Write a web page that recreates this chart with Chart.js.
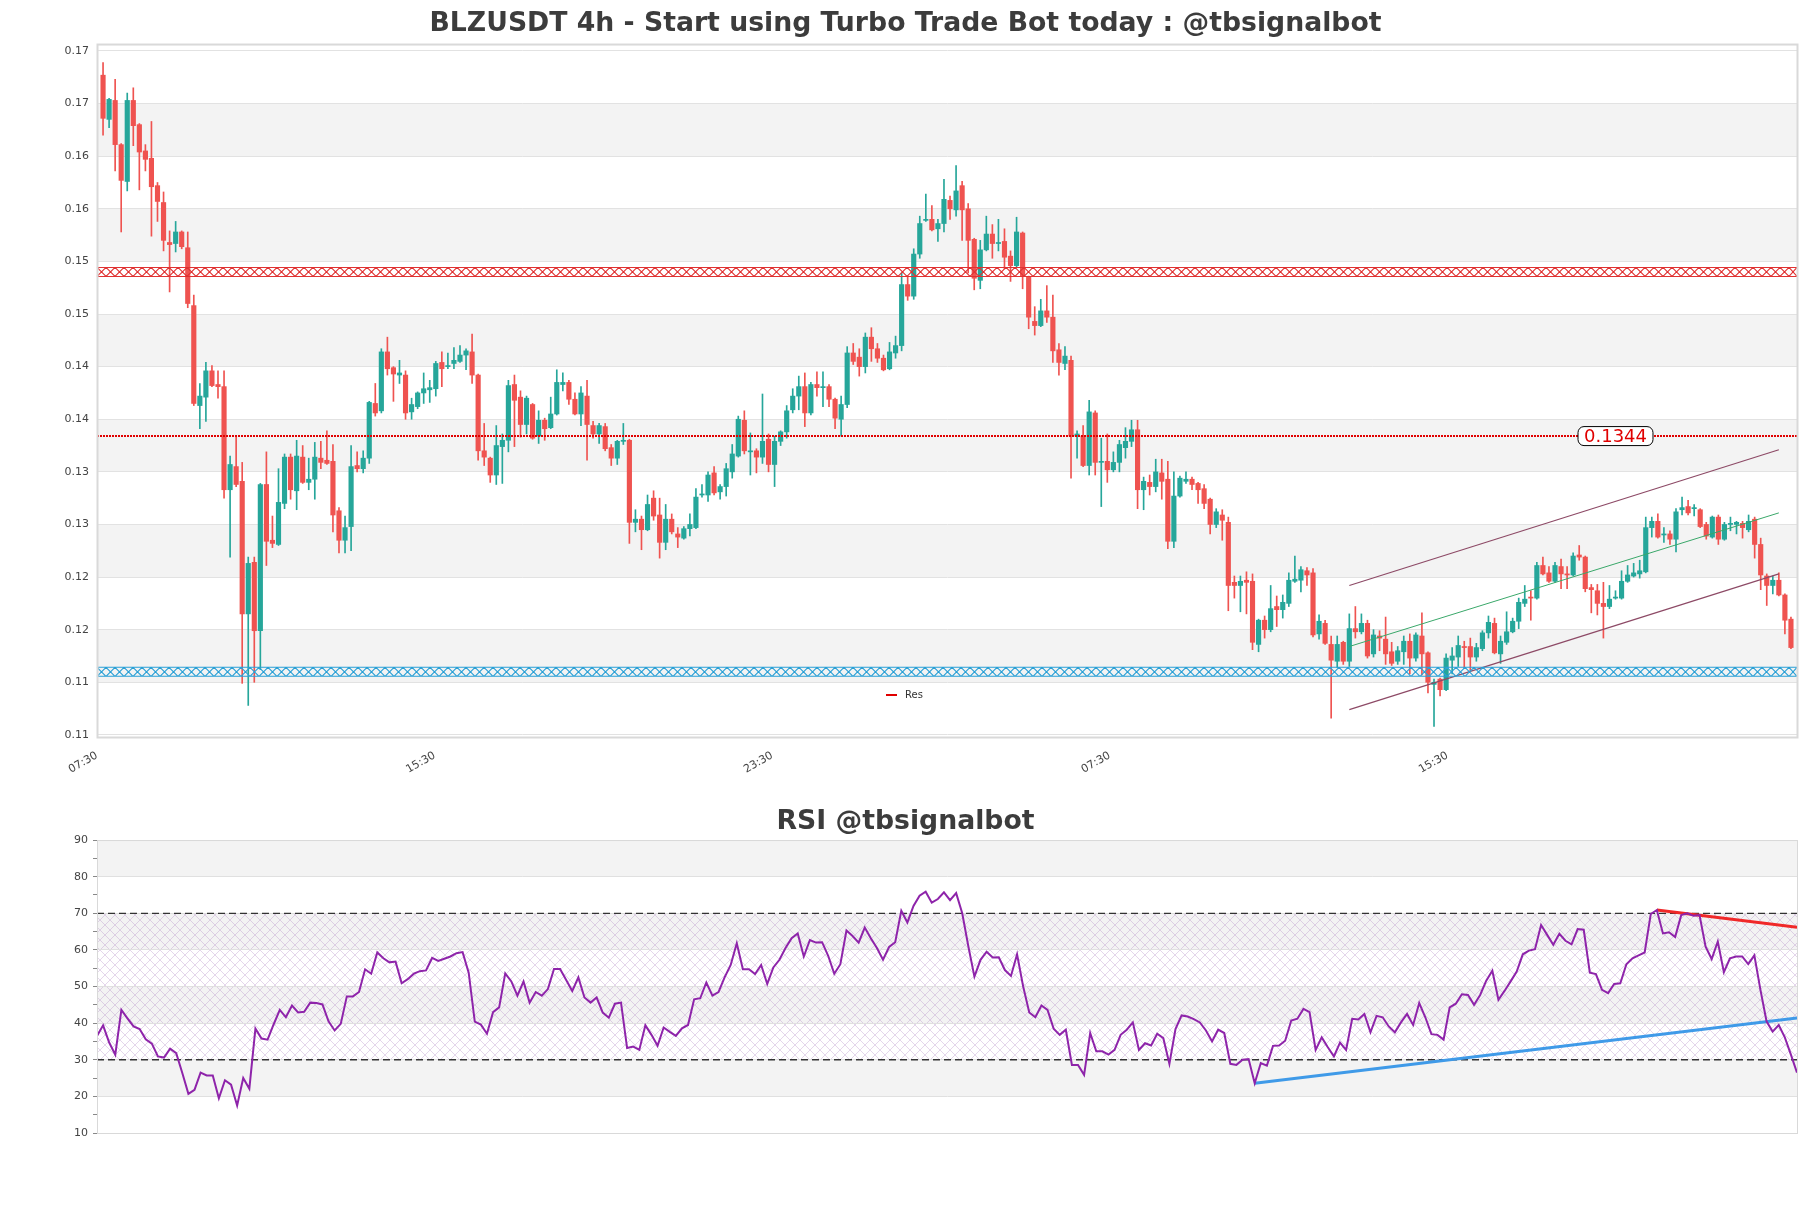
<!DOCTYPE html>
<html>
<head>
<meta charset="utf-8">
<script src="https://cdn.jsdelivr.net/npm/chart.js@4.4.1/dist/chart.umd.min.js"></script>
<style>
  html, body { margin: 0; padding: 0; background: #fff; }
  #wrap { position: relative; width: 1811px; height: 1208px; }
  #priceChart { position: absolute; left: 0; top: 0; }
  #rsiChart { position: absolute; left: 0; top: 790px; }
</style>
</head>
<body>
<div id="wrap">
  <canvas id="priceChart" width="1811" height="790"></canvas>
  <canvas id="rsiChart" width="1811" height="418"></canvas>
</div>
<script>
// Texts
const titleText = "BLZUSDT 4h - Start using Turbo Trade Bot today : @tbsignalbot";
const rsiTitleText = "RSI @tbsignalbot";

// X axis: tick labels and the candle index they sit on
const xTickLabels = ["07:30", "15:30", "23:30", "07:30", "15:30"];
const xTickIndex = [-1, 54.8, 110.6, 166.4, 222.2];

// Y axis ticks of the price panel
const priceTicks = [0.1060, 0.1110, 0.1160, 0.1210, 0.1260, 0.1310, 0.1360,
  0.1410, 0.1460, 0.1510, 0.1560, 0.1610, 0.1660, 0.1710];

// OHLC
const open = [
  0.1687,0.1645,0.1663,0.1621,0.1586,0.1663,0.1640,0.1615,0.1608,0.1582,
  0.1566,0.1528,0.1527,0.1538,0.1523,0.1468,0.1373,0.1381,0.1406,0.1393,
  0.1391,0.1293,0.1315,0.1301,0.1175,0.1224,0.1159,0.1298,0.1245,0.1241,
  0.1280,0.1324,0.1292,0.1324,0.1300,0.1303,0.1323,0.1321,0.1320,0.1273,
  0.1245,0.1258,0.1316,0.1313,0.1323,0.1375,0.1368,0.1424,0.1409,0.1402,
  0.1402,0.1367,0.1372,0.1385,0.1388,0.1389,0.1414,0.1410,0.1413,0.1415,
  0.1421,0.1424,0.1402,0.1330,0.1323,0.1307,0.1334,0.1340,0.1393,0.1381,
  0.1355,0.1374,0.1344,0.1359,0.1352,0.1365,0.1393,0.1395,0.1379,0.1365,
  0.1382,0.1354,0.1346,0.1353,0.1333,0.1323,0.1339,0.1340,0.1262,0.1265,
  0.1255,0.1285,0.1269,0.1243,0.1265,0.1251,0.1247,0.1256,0.1257,0.1288,
  0.1288,0.1309,0.1291,0.1296,0.1310,0.1325,0.1359,0.1329,0.1330,0.1324,
  0.1341,0.1317,0.1339,0.1348,0.1369,0.1382,0.1391,0.1366,0.1393,0.1390,
  0.1391,0.1379,0.1360,0.1374,0.1423,0.1419,0.1410,0.1438,0.1427,0.1418,
  0.1408,0.1423,0.1430,0.1488,0.1477,0.1517,0.1549,0.1550,0.1541,0.1546,
  0.1568,0.1559,0.1582,0.1560,0.1531,0.1492,0.1521,0.1536,0.1527,0.1529,
  0.1515,0.1506,0.1537,0.1495,0.1453,0.1449,0.1463,0.1457,0.1426,0.1413,
  0.1416,0.1344,0.1344,0.1316,0.1366,0.1319,0.1320,0.1312,0.1319,0.1333,
  0.1339,0.1350,0.1293,0.1300,0.1296,0.1309,0.1303,0.1244,0.1287,0.1301,
  0.1303,0.1299,0.1294,0.1284,0.1260,0.1269,0.1262,0.1205,0.1202,0.1207,
  0.1206,0.1146,0.1169,0.1160,0.1182,0.1179,0.1185,0.1206,0.1207,0.1216,
  0.1214,0.1156,0.1166,0.1146,0.1130,0.1148,0.1130,0.1161,0.1158,0.1166,
  0.1137,0.1154,0.1151,0.1139,0.1130,0.1139,0.1149,0.1133,0.1154,0.1138,
  0.1108,0.1113,0.1103,0.1131,0.1134,0.1144,0.1144,0.1134,0.1142,0.1157,
  0.1166,0.1137,0.1148,0.1158,0.1168,0.1185,0.1191,0.1190,0.1221,0.1214,
  0.1206,0.1220,0.1213,0.1212,0.1231,0.1229,0.1200,0.1197,0.1185,0.1182,
  0.1190,0.1190,0.1206,0.1211,0.1213,0.1215,0.1257,0.1263,0.1250,0.1251,
  0.1246,0.1274,0.1277,0.1275,0.1274,0.1260,0.1248,0.1267,0.1246,0.1260,
  0.1260,0.1261,0.1255,0.1265,0.1241,0.1211,0.1202,0.1207,0.1193,0.1170
];
const high = [
  0.1699,0.1665,0.1683,0.1622,0.1670,0.1675,0.1641,0.1621,0.1643,0.1585,
  0.1576,0.1539,0.1548,0.1539,0.1538,0.1478,0.1394,0.1414,0.1411,0.1406,
  0.1406,0.1325,0.1344,0.1319,0.1229,0.1229,0.1299,0.1329,0.1268,0.1313,
  0.1327,0.1327,0.1340,0.1335,0.1323,0.1338,0.1339,0.1349,0.1336,0.1276,
  0.1268,0.1335,0.1329,0.1330,0.1377,0.1394,0.1427,0.1438,0.1410,0.1416,
  0.1406,0.1380,0.1386,0.1404,0.1397,0.1415,0.1424,0.1423,0.1428,0.1430,
  0.1427,0.1441,0.1403,0.1356,0.1324,0.1354,0.1346,0.1397,0.1402,0.1387,
  0.1382,0.1375,0.1368,0.1361,0.1381,0.1407,0.1404,0.1397,0.1385,0.1391,
  0.1397,0.1358,0.1356,0.1356,0.1336,0.1340,0.1356,0.1341,0.1274,0.1268,
  0.1288,0.1292,0.1285,0.1279,0.1270,0.1257,0.1258,0.1270,0.1294,0.1298,
  0.1310,0.1315,0.1298,0.1318,0.1336,0.1363,0.1368,0.1347,0.1332,0.1384,
  0.1346,0.1344,0.1349,0.1373,0.1389,0.1401,0.1404,0.1395,0.1405,0.1405,
  0.1393,0.1380,0.1382,0.1429,0.1432,0.1427,0.1442,0.1447,0.1432,0.1421,
  0.1433,0.1439,0.1499,0.1495,0.1522,0.1553,0.1574,0.1563,0.1550,0.1588,
  0.1572,0.1601,0.1586,0.1565,0.1532,0.1530,0.1553,0.1545,0.1550,0.1541,
  0.1520,0.1552,0.1538,0.1496,0.1467,0.1474,0.1487,0.1478,0.1432,0.1429,
  0.1420,0.1349,0.1354,0.1378,0.1368,0.1342,0.1346,0.1329,0.1340,0.1352,
  0.1359,0.1359,0.1305,0.1307,0.1322,0.1322,0.1320,0.1310,0.1306,0.1310,
  0.1305,0.1300,0.1298,0.1285,0.1275,0.1274,0.1267,0.1211,0.1211,0.1215,
  0.1213,0.1170,0.1173,0.1202,0.1192,0.1193,0.1214,0.1230,0.1220,0.1219,
  0.1218,0.1174,0.1169,0.1154,0.1154,0.1149,0.1175,0.1182,0.1175,0.1169,
  0.1160,0.1159,0.1172,0.1148,0.1144,0.1154,0.1156,0.1157,0.1176,0.1139,
  0.1113,0.1114,0.1137,0.1143,0.1154,0.1149,0.1152,0.1147,0.1159,0.1173,
  0.1171,0.1154,0.1177,0.1171,0.1190,0.1202,0.1197,0.1224,0.1229,0.1220,
  0.1224,0.1227,0.1220,0.1233,0.1240,0.1230,0.1203,0.1203,0.1205,0.1202,
  0.1197,0.1216,0.1221,0.1223,0.1226,0.1267,0.1267,0.1270,0.1257,0.1254,
  0.1275,0.1286,0.1283,0.1279,0.1275,0.1262,0.1268,0.1269,0.1262,0.1267,
  0.1263,0.1263,0.1269,0.1267,0.1247,0.1213,0.1211,0.1214,0.1194,0.1172
];
const low = [
  0.1630,0.1637,0.1596,0.1538,0.1577,0.1620,0.1578,0.1596,0.1534,0.1548,
  0.1520,0.1481,0.1519,0.1522,0.1466,0.1373,0.1351,0.1358,0.1391,0.1380,
  0.1285,0.1229,0.1296,0.1109,0.1088,0.1110,0.1122,0.1221,0.1238,0.1240,
  0.1275,0.1284,0.1274,0.1299,0.1293,0.1284,0.1313,0.1317,0.1253,0.1233,
  0.1233,0.1235,0.1310,0.1309,0.1318,0.1363,0.1366,0.1402,0.1377,0.1394,
  0.1360,0.1360,0.1370,0.1375,0.1376,0.1382,0.1391,0.1408,0.1408,0.1414,
  0.1407,0.1394,0.1321,0.1316,0.1300,0.1298,0.1299,0.1329,0.1334,0.1343,
  0.1346,0.1341,0.1337,0.1340,0.1351,0.1364,0.1387,0.1374,0.1364,0.1354,
  0.1321,0.1342,0.1337,0.1330,0.1316,0.1317,0.1336,0.1242,0.1253,0.1236,
  0.1254,0.1264,0.1228,0.1236,0.1251,0.1238,0.1246,0.1249,0.1256,0.1286,
  0.1282,0.1288,0.1284,0.1287,0.1304,0.1324,0.1327,0.1307,0.1309,0.1318,
  0.1310,0.1296,0.1335,0.1342,0.1366,0.1369,0.1353,0.1364,0.1382,0.1372,
  0.1372,0.1351,0.1344,0.1371,0.1412,0.1401,0.1404,0.1415,0.1414,0.1406,
  0.1407,0.1418,0.1425,0.1473,0.1474,0.1513,0.1548,0.1539,0.1529,0.1538,
  0.1550,0.1553,0.1530,0.1499,0.1483,0.1484,0.1520,0.1513,0.1520,0.1503,
  0.1491,0.1505,0.1484,0.1446,0.1440,0.1448,0.1452,0.1414,0.1402,0.1407,
  0.1304,0.1323,0.1315,0.1307,0.1307,0.1277,0.1300,0.1310,0.1310,0.1323,
  0.1334,0.1275,0.1274,0.1288,0.1291,0.1284,0.1237,0.1238,0.1286,0.1299,
  0.1293,0.1280,0.1275,0.1251,0.1257,0.1245,0.1178,0.1190,0.1177,0.1175,
  0.1141,0.1139,0.1152,0.1158,0.1163,0.1171,0.1182,0.1205,0.1196,0.1202,
  0.1153,0.1151,0.1146,0.1076,0.1124,0.1127,0.1125,0.1152,0.1156,0.1133,
  0.1134,0.1140,0.1127,0.1126,0.1127,0.1127,0.1118,0.1130,0.1117,0.1100,
  0.1068,0.1097,0.1102,0.1118,0.1125,0.1123,0.1121,0.1130,0.1140,0.1152,
  0.1137,0.1128,0.1146,0.1157,0.1161,0.1182,0.1169,0.1189,0.1212,0.1205,
  0.1205,0.1199,0.1199,0.1211,0.1226,0.1196,0.1176,0.1174,0.1152,0.1180,
  0.1189,0.1189,0.1205,0.1210,0.1209,0.1214,0.1248,0.1247,0.1243,0.1241,
  0.1234,0.1269,0.1269,0.1268,0.1257,0.1246,0.1247,0.1241,0.1245,0.1254,
  0.1251,0.1247,0.1253,0.1228,0.1198,0.1183,0.1194,0.1192,0.1156,0.1142
];
const close = [
  0.1646,0.1664,0.1621,0.1587,0.1663,0.1639,0.1614,0.1607,0.1581,0.1567,
  0.1530,0.1526,0.1538,0.1524,0.1470,0.1375,0.1382,0.1406,0.1392,0.1391,
  0.1293,0.1317,0.1298,0.1175,0.1223,0.1159,0.1298,0.1244,0.1242,0.1281,
  0.1324,0.1293,0.1325,0.1300,0.1303,0.1324,0.1319,0.1318,0.1269,0.1245,
  0.1257,0.1315,0.1313,0.1323,0.1376,0.1366,0.1424,0.1408,0.1403,0.1404,
  0.1366,0.1374,0.1385,0.1389,0.1390,0.1413,0.1408,0.1411,0.1416,0.1421,
  0.1425,0.1402,0.1330,0.1324,0.1307,0.1335,0.1340,0.1392,0.1378,0.1355,
  0.1380,0.1342,0.1359,0.1351,0.1365,0.1395,0.1395,0.1379,0.1365,0.1385,
  0.1355,0.1346,0.1354,0.1332,0.1323,0.1339,0.1340,0.1262,0.1265,0.1255,
  0.1279,0.1268,0.1243,0.1265,0.1253,0.1248,0.1256,0.1260,0.1286,0.1289,
  0.1307,0.1290,0.1296,0.1313,0.1327,0.1360,0.1330,0.1330,0.1324,0.1339,
  0.1317,0.1339,0.1348,0.1368,0.1382,0.1391,0.1366,0.1393,0.1390,0.1391,
  0.1379,0.1361,0.1374,0.1423,0.1415,0.1410,0.1438,0.1427,0.1418,0.1407,
  0.1424,0.1430,0.1488,0.1477,0.1517,0.1546,0.1550,0.1540,0.1546,0.1569,
  0.1560,0.1577,0.1559,0.1530,0.1494,0.1521,0.1536,0.1527,0.1528,0.1514,
  0.1506,0.1538,0.1496,0.1457,0.1449,0.1463,0.1457,0.1425,0.1414,0.1420,
  0.1344,0.1346,0.1316,0.1367,0.1319,0.1320,0.1312,0.1319,0.1336,0.1339,
  0.1350,0.1293,0.1301,0.1296,0.1310,0.1301,0.1244,0.1287,0.1304,0.1303,
  0.1298,0.1293,0.1280,0.1260,0.1272,0.1264,0.1202,0.1202,0.1206,0.1205,
  0.1148,0.1169,0.1160,0.1180,0.1179,0.1186,0.1207,0.1208,0.1217,0.1212,
  0.1155,0.1168,0.1147,0.1131,0.1146,0.1130,0.1161,0.1158,0.1166,0.1135,
  0.1155,0.1152,0.1137,0.1128,0.1140,0.1149,0.1133,0.1155,0.1137,0.1110,
  0.1110,0.1103,0.1133,0.1135,0.1145,0.1143,0.1134,0.1143,0.1157,0.1167,
  0.1138,0.1149,0.1158,0.1168,0.1186,0.1189,0.1190,0.1221,0.1213,0.1206,
  0.1221,0.1213,0.1212,0.1230,0.1229,0.1199,0.1198,0.1185,0.1182,0.1189,
  0.1191,0.1206,0.1212,0.1214,0.1216,0.1257,0.1263,0.1248,0.1251,0.1246,
  0.1272,0.1276,0.1271,0.1276,0.1258,0.1249,0.1267,0.1246,0.1260,0.1261,
  0.1262,0.1257,0.1263,0.1241,0.1212,0.1202,0.1207,0.1193,0.1169,0.1143
];

// Levels and channel
const resLevel = 0.1344;
const resistanceZone = 0.1500;
const supportZone = 0.1120;
const channelX = [206, 277];
const channelUpper = [0.1202, 0.1331];
const channelMid = [0.1144, 0.1271];
const channelLower = [0.1084, 0.1213];

// RSI
const rsi = [
  36.5,39.4,34.7,31.4,43.6,41.3,39.1,38.4,35.6,34.4,
  30.9,30.6,33.0,31.8,26.4,20.7,21.8,26.5,25.7,25.7,
  19.5,24.4,23.2,17.5,25.0,22.1,38.5,35.8,35.5,39.7,
  43.6,41.6,44.8,42.9,43.1,45.6,45.5,45.1,40.5,38.0,
  39.8,47.3,47.3,48.5,54.7,53.5,59.3,57.7,56.6,56.8,
  50.9,52.0,53.5,54.2,54.4,57.8,57.0,57.6,58.2,59.1,
  59.4,53.8,40.4,39.6,37.1,43.0,44.3,53.6,51.4,47.5,
  51.4,45.6,48.5,47.5,49.3,54.8,54.8,51.8,48.8,52.5,
  47.0,45.6,47.0,42.9,41.5,45.3,45.6,33.2,33.6,32.7,
  39.4,36.8,33.8,38.8,37.6,36.5,38.6,39.5,46.5,46.8,
  51.1,47.5,48.5,52.5,55.9,61.8,54.7,54.7,53.4,55.9,
  50.7,55.2,57.3,60.5,63.2,64.5,58.2,62.7,62.0,62.1,
  58.4,53.5,56.1,65.3,63.8,62.0,66.1,63.2,60.5,57.3,
  60.8,62.1,70.7,67.5,72.0,74.8,75.9,72.9,73.9,75.7,
  73.6,75.5,70.0,61.0,52.7,57.3,59.5,57.9,58.0,54.5,
  52.9,58.8,50.0,42.9,41.6,44.8,43.6,38.5,36.8,38.2,
  28.6,28.6,25.9,37.3,32.3,32.3,31.4,32.7,36.8,38.2,
  40.2,32.7,34.5,33.9,37.1,35.9,28.9,38.4,42.1,41.8,
  41.1,40.2,38.0,35.0,38.2,37.3,28.9,28.6,30.0,30.2,
  23.6,29.1,28.4,33.8,33.9,35.2,40.7,41.2,43.9,43.0,
  32.7,36.1,33.4,30.9,34.7,32.7,41.2,41.0,42.5,37.5,
  42.0,41.6,39.1,37.5,40.2,42.5,39.5,45.5,41.6,37.0,
  36.8,35.5,44.3,45.3,47.9,47.7,45.0,47.7,51.6,54.3,
  46.4,48.8,51.4,54.1,58.8,59.8,60.2,66.8,64.1,61.4,
  64.4,62.5,61.5,65.7,65.5,53.8,53.4,49.1,48.2,50.7,
  50.9,56.1,57.7,58.5,59.3,69.8,70.9,64.5,64.8,63.5,
  69.5,70.0,69.3,69.5,60.9,57.5,62.3,53.9,57.7,58.2,
  58.2,56.1,58.5,49.1,40.5,37.7,39.5,36.1,31.4,26.5
];
const rsiLevels = [70, 30];
const rsiSupportX = [190, 279];
const rsiSupportY = [23.6, 41.4];
const rsiResistX = [256, 279];
const rsiResistY = [70.9, 66.2];

Chart.defaults.font.family = "'DejaVu Sans', sans-serif";
Chart.defaults.animation = false;

const idx = open.map((_, i) => i);
const candleColors = idx.map(i => (close[i] >= open[i] ? "#26a69a" : "#ef5350"));
const pts = (xs, ys) => xs.map((x, i) => ({ x: x, y: ys[i] }));

// empty right-hand axis keeps the plot off the right edge while the title stays centred on the page
const rightGap = {
  position: "right",
  grid: { display: false },
  ticks: { display: false },
  border: { display: false },
  afterFit: s => { s.width = 14; }
};

function drawZone(ctx, area, yPix, color) {
  const half = 4.5, step = 9;
  ctx.save();
  ctx.strokeStyle = color;
  ctx.lineWidth = 1.1;
  ctx.beginPath();
  ctx.moveTo(area.left, yPix - half); ctx.lineTo(area.right, yPix - half);
  ctx.moveTo(area.left, yPix + half); ctx.lineTo(area.right, yPix + half);
  for (let x = area.left; x < area.right; x += step) {
    const x2 = Math.min(x + step, area.right);
    ctx.moveTo(x, yPix - half); ctx.lineTo(x2, yPix + half);
    ctx.moveTo(x, yPix + half); ctx.lineTo(x2, yPix - half);
  }
  ctx.stroke();
  ctx.restore();
}

const priceDecor = {
  id: "priceDecor",
  beforeDraw(chart) {
    const { ctx, chartArea: a, scales: { y } } = chart;
    ctx.save();
    ctx.fillStyle = "#f3f3f3";
    for (let k = 1; k + 1 < priceTicks.length; k += 2) {
      const top = y.getPixelForValue(priceTicks[k + 1]);
      const bottom = y.getPixelForValue(priceTicks[k]);
      ctx.fillRect(a.left, top, a.right - a.left, bottom - top);
    }
    ctx.restore();
  },
  afterDatasetsDraw(chart) {
    const { ctx, chartArea: a, scales: { x, y } } = chart;
    drawZone(ctx, a, y.getPixelForValue(resistanceZone), "#e03232");
    drawZone(ctx, a, y.getPixelForValue(supportZone), "#2aa0d6");

    // level label
    const text = resLevel.toFixed(4);
    ctx.save();
    ctx.font = "18px 'DejaVu Sans'";
    const w = ctx.measureText(text).width + 12;
    const h = 19;
    const cx = x.getPixelForValue(250);
    const cy = y.getPixelForValue(resLevel);
    ctx.beginPath();
    ctx.roundRect(cx - w / 2, cy - h / 2, w, h, 6);
    ctx.fillStyle = "#fff";
    ctx.fill();
    ctx.strokeStyle = "#000";
    ctx.lineWidth = 1;
    ctx.stroke();
    ctx.fillStyle = "#e00000";
    ctx.textAlign = "center";
    ctx.textBaseline = "middle";
    ctx.fillText(text, cx, cy + 1);

    // legend
    ctx.strokeStyle = "#e00000";
    ctx.lineWidth = 2;
    ctx.beginPath();
    ctx.moveTo(886, 695); ctx.lineTo(897, 695);
    ctx.stroke();
    ctx.font = "10px 'DejaVu Sans'";
    ctx.fillStyle = "#333";
    ctx.textAlign = "left";
    ctx.fillText("Res", 905, 695);

    // frame
    ctx.strokeStyle = "#d9d9d9";
    ctx.strokeRect(a.left + 0.5, a.top + 0.5, a.right - a.left, a.bottom - a.top);
    ctx.restore();
  }
};

new Chart(document.getElementById("priceChart"), {
  type: "bar",
  data: {
    datasets: [
      {
        label: "Res",
        type: "line",
        data: pts([-1, 280], [resLevel, resLevel]),
        borderColor: "#e00000",
        borderWidth: 2,
        borderDash: [2, 1],
        pointRadius: 0,
        order: 0
      },
      {
        type: "line",
        data: pts(channelX, channelUpper),
        borderColor: "#8d4a66",
        borderWidth: 1.2,
        pointRadius: 0,
        order: 0
      },
      {
        type: "line",
        data: pts(channelX, channelMid),
        borderColor: "#3aa86a",
        borderWidth: 1,
        pointRadius: 0,
        order: 0
      },
      {
        type: "line",
        data: pts(channelX, channelLower),
        borderColor: "#8d4a66",
        borderWidth: 1.2,
        pointRadius: 0,
        order: 0
      },
      {
        label: "body",
        data: idx.map(i => ({ x: i, y: [open[i], close[i]] })),
        backgroundColor: candleColors,
        grouped: false,
        barThickness: 4.5,
        maxBarThickness: 4.5,
        minBarLength: 1,
        order: 1
      },
      {
        label: "wick",
        data: idx.map(i => ({ x: i, y: [low[i], high[i]] })),
        backgroundColor: candleColors,
        grouped: false,
        barThickness: 1,
        maxBarThickness: 1,
        minBarLength: 1,
        order: 2
      }
    ]
  },
  options: {
    responsive: false,
    layout: { padding: 0 },
    plugins: {
      legend: { display: false },
      tooltip: { enabled: false },
      title: {
        display: true,
        text: titleText,
        color: "#3c3c3c",
        font: { size: 26.7, weight: "bold" },
        padding: { top: 8.3, bottom: 3.7 }
      }
    },
    scales: {
      x: {
        type: "linear",
        min: -1,
        max: 280,
        offset: false,
        afterBuildTicks: s => { s.ticks = xTickIndex.map(v => ({ value: v })); },
        afterFit: s => { s.height = 53; },
        ticks: {
          autoSkip: false,
          minRotation: 30,
          maxRotation: 30,
          padding: 4,
          color: "#444",
          font: { size: 11 },
          callback: (v, i) => xTickLabels[i]
        },
        grid: { display: false },
        border: { color: "#d9d9d9" }
      },
      y: {
        min: 0.1058,
        max: 0.17166,
        afterBuildTicks: s => { s.ticks = priceTicks.map(v => ({ value: v })); },
        afterFit: s => { s.width = 97; },
        ticks: {
          autoSkip: false,
          padding: 8,
          color: "#444",
          font: { size: 11 },
          callback: v => v.toFixed(2)
        },
        grid: { color: "#e2e2e2", drawTicks: false },
        border: { color: "#d9d9d9" }
      },
      gap: rightGap
    }
  },
  plugins: [priceDecor]
});

// RSI panel
function hatchPattern(ctx) {
  const c = document.createElement("canvas");
  c.width = 10; c.height = 10;
  const p = c.getContext("2d");
  p.strokeStyle = "rgba(180, 140, 200, 0.45)";
  p.lineWidth = 0.8;
  p.beginPath();
  p.moveTo(0, 0); p.lineTo(10, 10);
  p.moveTo(10, 0); p.lineTo(0, 10);
  p.stroke();
  return ctx.createPattern(c, "repeat");
}

const rsiDecor = {
  id: "rsiDecor",
  beforeDraw(chart) {
    const { ctx, chartArea: a, scales: { y } } = chart;
    ctx.save();
    ctx.fillStyle = "#f3f3f3";
    for (let v = 20; v < 90; v += 20) {
      const top = y.getPixelForValue(v + 10);
      const bottom = y.getPixelForValue(v);
      ctx.fillRect(a.left, top, a.right - a.left, bottom - top);
    }
    const top = y.getPixelForValue(rsiLevels[0]);
    const bottom = y.getPixelForValue(rsiLevels[1]);
    ctx.fillStyle = hatchPattern(ctx);
    ctx.fillRect(a.left, top, a.right - a.left, bottom - top);
    ctx.restore();
  },
  afterDraw(chart) {
    const { ctx, chartArea: a } = chart;
    ctx.save();
    ctx.strokeStyle = "#d9d9d9";
    ctx.strokeRect(a.left + 0.5, a.top + 0.5, a.right - a.left, a.bottom - a.top);
    ctx.restore();
  }
};

new Chart(document.getElementById("rsiChart"), {
  type: "line",
  data: {
    datasets: [
      {
        label: "RSI",
        data: rsi.map((v, i) => ({ x: i, y: v })),
        borderColor: "#8e24aa",
        borderWidth: 2,
        pointRadius: 0,
        tension: 0
      },
      {
        data: pts(rsiSupportX, rsiSupportY),
        borderColor: "#3f9ae8",
        borderWidth: 3,
        pointRadius: 0
      },
      {
        data: pts(rsiResistX, rsiResistY),
        borderColor: "#f02828",
        borderWidth: 3,
        pointRadius: 0
      },
      ...rsiLevels.map(l => ({
        data: pts([0, rsi.length - 1], [l, l]),
        borderColor: "#333",
        borderWidth: 1.3,
        borderDash: [7, 4],
        pointRadius: 0
      }))
    ]
  },
  options: {
    responsive: false,
    layout: { padding: { left: 0, right: 0, top: 0, bottom: 75 } },
    plugins: {
      legend: { display: false },
      tooltip: { enabled: false },
      title: {
        display: true,
        text: rsiTitleText,
        color: "#3c3c3c",
        font: { size: 26.7, weight: "bold" },
        padding: { top: 16.3, bottom: 1.7 }
      }
    },
    scales: {
      x: { type: "linear", min: 0, max: rsi.length - 1, display: false },
      y: {
        min: 10,
        max: 90,
        afterFit: s => { s.width = 97; },
        ticks: {
          stepSize: 5,
          autoSkip: false,
          padding: 5,
          color: "#444",
          font: { size: 11 },
          callback: v => (v % 10 === 0 ? v : "")
        },
        grid: {
          color: c => (c.tick && c.tick.value % 10 === 0 ? "#e0e0e0" : "rgba(0,0,0,0)"),
          tickColor: "#888",
          tickLength: 4
        },
        border: { color: "#d9d9d9" }
      },
      gap: rightGap
    }
  },
  plugins: [rsiDecor]
});
</script>
</body>
</html>
